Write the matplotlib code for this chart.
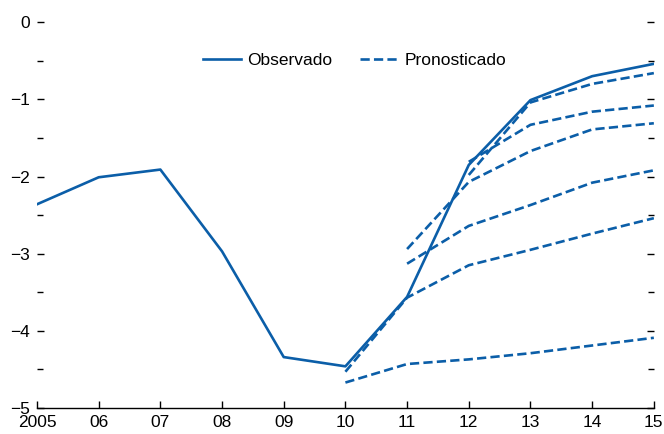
import matplotlib
matplotlib.use("Agg")
import matplotlib.pyplot as plt
from matplotlib.ticker import MultipleLocator

# observed series
years = [2005, 2006, 2007, 2008, 2009, 2010, 2011, 2012, 2013, 2014, 2015]
observed = [-2.36, -2.01, -1.91, -2.97, -4.34, -4.46, -3.56, -1.85, -1.01, -0.70, -0.54]

# forecast vintages (start year, values)
fc1_years = [2010, 2011, 2012, 2013, 2014, 2015]
fc1 = [-4.67, -4.43, -4.37, -4.29, -4.19, -4.09]
fc2_years = [2010, 2011, 2012, 2013, 2014, 2015]
fc2 = [-4.53, -3.57, -3.15, -2.95, -2.74, -2.54]
fc3_years = [2011, 2012, 2013, 2014, 2015]
fc3 = [-3.13, -2.64, -2.37, -2.08, -1.92]
fc4_years = [2011, 2012, 2013, 2014, 2015]
fc4 = [-2.94, -2.07, -1.67, -1.39, -1.31]
fc5_years = [2012, 2013, 2014, 2015]
fc5 = [-1.81, -1.33, -1.16, -1.08]
fc6_years = [2012, 2013, 2014, 2015]
fc6 = [-1.98, -1.04, -0.80, -0.66]

xlabels = ["2005", "06", "07", "08", "09", "10", "11", "12", "13", "14", "15"]

plt.rcParams["font.family"] = ["Liberation Sans", "DejaVu Sans"]
plt.rcParams["font.size"] = 12.5

blue = "#0b5ea8"
fig = plt.figure(figsize=(6.64, 4.34), dpi=100)
ax = fig.add_axes([0.0557, 0.0599, 0.929, 0.889])

ax.plot(years, observed, color=blue, lw=1.9, label="Observado")
forecasts = [(fc1_years, fc1), (fc2_years, fc2), (fc3_years, fc3),
             (fc4_years, fc4), (fc5_years, fc5), (fc6_years, fc6)]
for i, (fy, fv) in enumerate(forecasts):
    ax.plot(fy, fv, color=blue, lw=1.9, dashes=(3.5, 1.6),
            label="Pronosticado" if i == 0 else None)

ax.set_xlim(2005, 2015)
ax.set_ylim(-5, 0)
ax.set_xticks(years)
ax.set_xticklabels(xlabels)
ax.yaxis.set_major_locator(MultipleLocator(1))
ax.yaxis.set_minor_locator(MultipleLocator(0.5))

for side in ["left", "right", "top"]:
    ax.spines[side].set_visible(False)
ax.spines["bottom"].set_linewidth(1.0)

ax.tick_params(axis="x", direction="in", length=5, width=1.0, pad=5)
ax.tick_params(axis="y", which="both", direction="in", left=True, right=True,
               width=1.0, pad=5)
ax.tick_params(axis="y", which="major", length=5)
ax.tick_params(axis="y", which="minor", length=4)

ax.legend(loc="center", bbox_to_anchor=(0.515, 0.90), ncol=2, frameon=False,
          handlelength=2.2, handletextpad=0.35, columnspacing=1.6, fontsize=12.5)

plt.savefig("out.png", dpi=100)
